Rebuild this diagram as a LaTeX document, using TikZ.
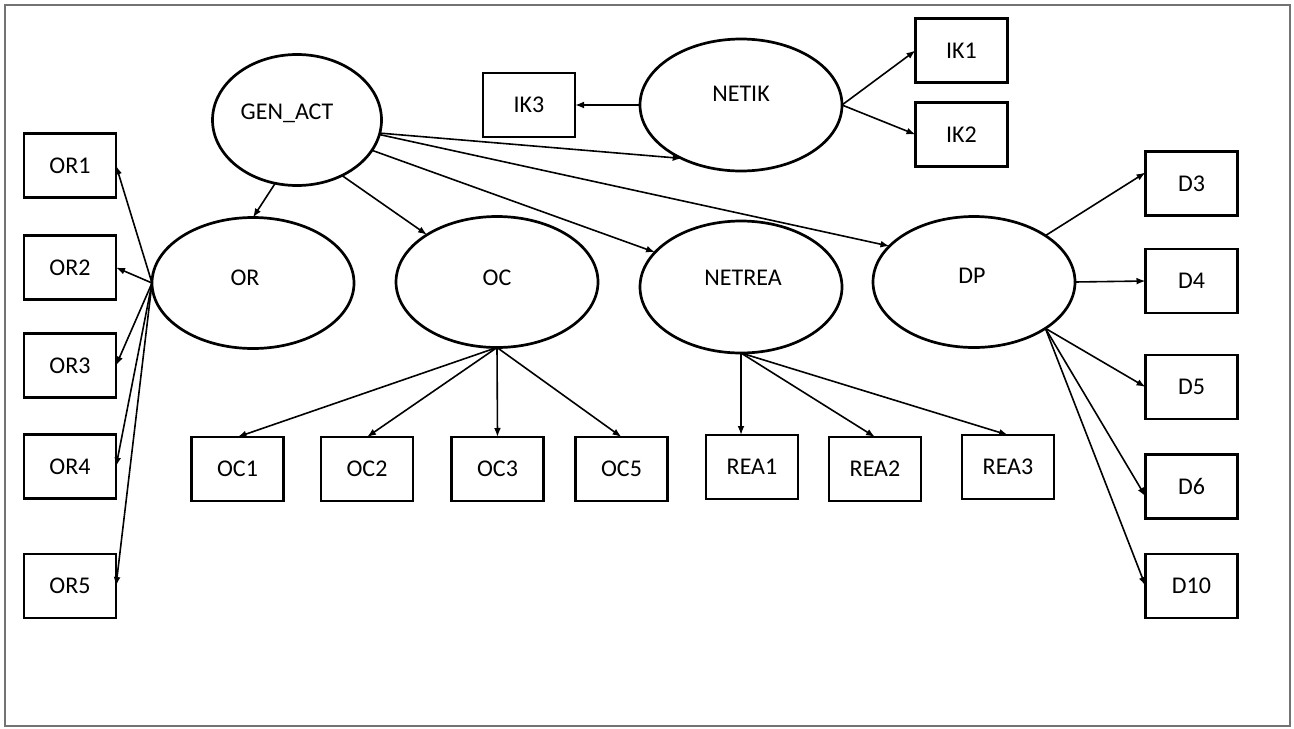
\documentclass[tikz,border=0pt]{standalone}
\usepackage{fontspec}
\setmainfont{Carlito}
\usetikzlibrary{arrows.meta,shapes.geometric,calc}
\begin{document}
\begin{tikzpicture}[x=0.5pt,y=-0.5pt,
  ell/.style={draw,ellipse,line width=1.35pt,inner sep=0pt,outer sep=0pt,minimum width=101pt,minimum height=65.5pt},
  box/.style={draw,rectangle,line width=1.45pt,minimum width=46pt,minimum height=32pt,inner sep=0pt,outer sep=0pt,font=\fontsize{12}{14}\selectfont},
  lbl/.style={anchor=base,inner sep=0pt,font=\fontsize{12}{14}\selectfont},
  arr/.style={line width=0.8pt,-{Latex[length=4.5pt,width=3.4pt]}}]
\useasboundingbox (0,0) rectangle (1294,728);
\draw[black!55,line width=0.7pt] (5,5) rectangle (1290,726);

% ellipses
\node[ell,minimum width=84.5pt] (GEN) at (297,120) {};
\node[ell] (OR) at (253,283) {};
\node[ell] (OC) at (497,282) {};
\node[ell,minimum height=66pt] (NETREA) at (741,287) {};
\node[ell,minimum height=66pt] (NETIK) at (741,105) {};
\node[ell] (DP) at (974,282) {};

\node[lbl] (tGEN) at (287,119) {GEN\_ACT};
\node[lbl] (tOR) at (245,285.5) {OR};
\node[lbl] (tOC) at (497,285) {OC};
\node[lbl] (tNETREA) at (743,285) {NETREA};
\node[lbl] (tNETIK) at (741,101.5) {NETIK};
\node[lbl] (tDP) at (972,283) {DP};

% boxes
\node[box] (OR1) at (70,165.5) {OR1};
\node[box] (OR2) at (70,267.5) {OR2};
\node[box] (OR3) at (70,365.5) {OR3};
\node[box] (OR4) at (70,466.5) {OR4};
\node[box] (OR5) at (70,586) {OR5};
\node[box] (IK3) at (529,105) {IK3};
\node[box] (IK1) at (961.5,50.5) {IK1};
\node[box] (IK2) at (961.5,134.5) {IK2};
\node[box] (D3) at (1191.5,183.5) {D3};
\node[box] (D4) at (1191.5,281) {D4};
\node[box] (D5) at (1191.5,387) {D5};
\node[box] (D6) at (1191.5,486.5) {D6};
\node[box] (D10) at (1191.5,586) {D10};
\node[box] (OC1) at (237.5,469) {OC1};
\node[box] (OC2) at (367,469) {OC2};
\node[box] (OC3) at (497.5,469) {OC3};
\node[box] (OC5) at (621.5,469) {OC5};
\node[box] (REA1) at (752,467) {REA1};
\node[box] (REA2) at (875,469) {REA2};
\node[box] (REA3) at (1008,467) {REA3};

% GEN_ACT arrows
\draw[arr] (GEN.-109) -- (OR.north);
\draw[arr] (GEN.-51) -- (OC.146.5);
\draw[arr] (GEN.-9.4) -- (NETIK.222);
\draw[arr] (GEN.-22.7) -- (NETREA.158);
\draw[arr] (GEN.-10.7) -- (DP.157.4);

% OR
\foreach \n in {OR1,OR2,OR3,OR4,OR5} \draw[arr] (OR.west) -- (\n.east);
% OC
\foreach \n in {OC1,OC2,OC3,OC5} \draw[arr] (OC.south) -- (\n.north);
% NETREA
\draw[arr] (NETREA.south) -- (NETREA.south |- REA1.north);
\draw[arr] (NETREA.south) -- (REA2.north);
\draw[arr] (NETREA.south) -- (REA3.north);
% NETIK
\draw[arr] (NETIK.west) -- (IK3.east);
\draw[arr] (NETIK.east) -- (IK1.west);
\draw[arr] (NETIK.east) -- (IK2.west);
% DP
\draw[arr] (DP.33.5) -- ($(D3.west)+(0,-11)$);
\draw[arr] (DP.east) -- (D4.west);
\draw[arr] (DP.-33) -- (D5.west);
\draw[arr] (DP.-33) -- ($(D6.west)+(0,10)$);
\draw[arr] (DP.-33) -- (D10.west);
\end{tikzpicture}
\end{document}
